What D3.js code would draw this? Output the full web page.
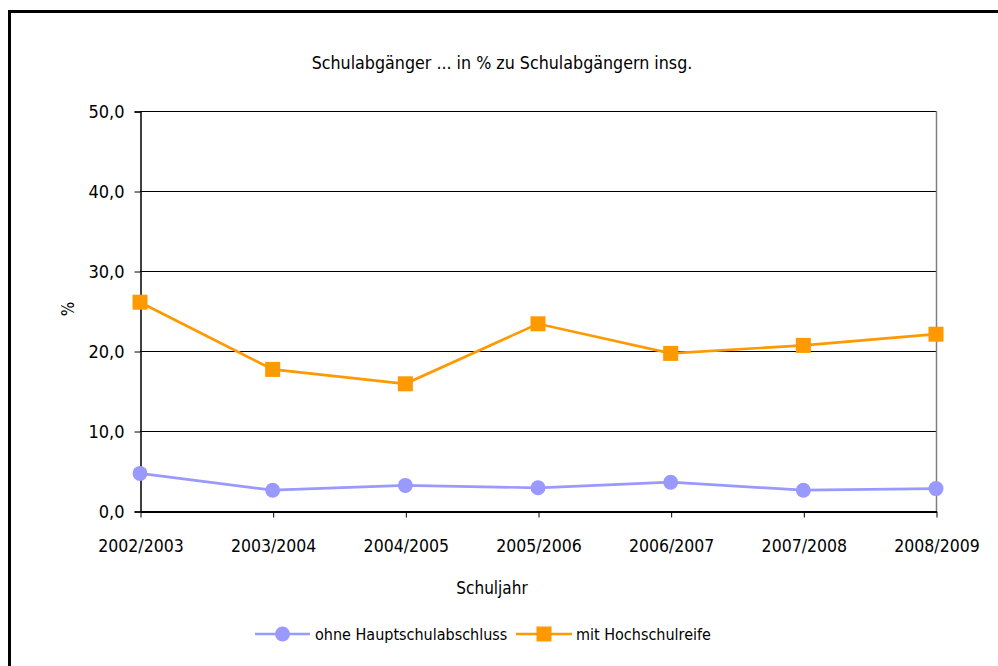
<!DOCTYPE html>
<html>
<head>
<meta charset="utf-8">
<script src="https://cdn.jsdelivr.net/npm/d3@7/dist/d3.min.js"></script>
<style>
  html, body { margin: 0; padding: 0; background: #fff; }
  svg text { font-family: "Liberation Sans Narrow", "DejaVu Sans Condensed", sans-serif; fill: #000; }
</style>
</head>
<body>
<svg id="chart" width="998" height="666"></svg>
<script>
// Schuljahre (Kategorien)
const years = ["2002/2003", "2003/2004", "2004/2005", "2005/2006", "2006/2007", "2007/2008", "2008/2009"];
// Anteile in % an allen Schulabgängern
const ohneHauptschulabschluss = [4.7, 2.6, 3.2, 2.9, 3.6, 2.6, 2.8];
const mitHochschulreife = [26.1, 17.7, 15.9, 23.4, 19.7, 20.7, 22.1];
const yTicks = [0, 10, 20, 30, 40, 50];

const series = [
  { name: "ohne Hauptschulabschluss", values: ohneHauptschulabschluss, color: "#9999FF", marker: "circle" },
  { name: "mit Hochschulreife", values: mitHochschulreife, color: "#FF9900", marker: "square" }
];

const svg = d3.select("#chart");
const fmt = v => d3.format(".1f")(v).replace(".", ",");

// Rahmen um das Diagramm
svg.append("rect")
  .attr("x", 9.5).attr("y", 11.5)
  .attr("width", 1000).attr("height", 700)
  .attr("fill", "none").attr("stroke", "#000").attr("stroke-width", 3);

const plot = { left: 140, right: 936, top: 111, bottom: 511 };

const x = d3.scalePoint().domain(years).range([plot.left, plot.right]).padding(0);
const y = d3.scaleLinear().domain([0, 50]).range([plot.bottom, plot.top]);

// Gitterlinien
svg.append("g")
  .selectAll("line")
  .data(yTicks.filter(t => t > 0))
  .join("line")
  .attr("x1", plot.left).attr("x2", plot.right)
  .attr("y1", d => Math.round(y(d)) + 0.5).attr("y2", d => Math.round(y(d)) + 0.5)
  .attr("stroke", "#000").attr("stroke-width", 1);

// rechter Rand der Zeichenfläche
svg.append("line")
  .attr("x1", plot.right + 0.5).attr("x2", plot.right + 0.5)
  .attr("y1", plot.top).attr("y2", plot.bottom)
  .attr("stroke", "#808080").attr("stroke-width", 1.5);

// Y-Achse
const yAxis = svg.append("g")
  .attr("transform", `translate(${plot.left + 0.5},0.5)`)
  .call(d3.axisLeft(y).tickValues(yTicks).tickFormat(fmt).tickSize(6).tickPadding(10));
yAxis.select(".domain").attr("stroke", "#000").attr("stroke-width", 1.5);
yAxis.selectAll(".tick line").attr("stroke", "#000");
yAxis.selectAll(".tick text").attr("font-size", 18).attr("fill", "#000");

// X-Achse
const xAxis = svg.append("g")
  .attr("transform", `translate(0.5,${plot.bottom + 0.5})`)
  .call(d3.axisBottom(x).tickSize(6).tickSizeOuter(0).tickPadding(22));
xAxis.select(".domain").attr("stroke", "#000").attr("stroke-width", 2);
xAxis.selectAll(".tick line").attr("stroke", "#000");
xAxis.selectAll(".tick text").attr("font-size", 17.5).attr("fill", "#000");

// Titel und Achsentitel
svg.append("text")
  .attr("x", 502).attr("y", 69)
  .attr("text-anchor", "middle").attr("font-size", 17.7)
  .text("Schulabgänger ... in % zu Schulabgängern insg.");

svg.append("text")
  .attr("x", 492).attr("y", 594)
  .attr("text-anchor", "middle").attr("font-size", 17)
  .text("Schuljahr");

svg.append("text")
  .attr("transform", "translate(74,309) rotate(-90)")
  .attr("text-anchor", "middle").attr("font-size", 17)
  .text("%");

// Linien und Markierungen
const line = d3.line().x((d, i) => x(years[i])).y(d => y(d));

series.forEach(s => {
  svg.append("path")
    .datum(s.values)
    .attr("d", line)
    .attr("fill", "none")
    .attr("stroke", s.color)
    .attr("stroke-width", 2.7);

  const g = svg.append("g");
  if (s.marker === "circle") {
    g.selectAll("circle").data(s.values).join("circle")
      .attr("cx", (d, i) => x(years[i]))
      .attr("cy", d => y(d))
      .attr("r", 7.5)
      .attr("fill", s.color);
  } else {
    g.selectAll("rect").data(s.values).join("rect")
      .attr("x", (d, i) => x(years[i]) - 7.5)
      .attr("y", d => y(d) - 7.5)
      .attr("width", 15).attr("height", 15)
      .attr("fill", s.color);
  }
});

// Legende
const legend = svg.append("g").attr("transform", "translate(0,634)");
const legendItems = [
  { s: series[0], x0: 255, x1: 310, tx: 315 },
  { s: series[1], x0: 516, x1: 572, tx: 576 }
];
legendItems.forEach(it => {
  legend.append("line")
    .attr("x1", it.x0).attr("x2", it.x1).attr("y1", 0).attr("y2", 0)
    .attr("stroke", it.s.color).attr("stroke-width", 2.7);
  const cx = (it.x0 + it.x1) / 2;
  if (it.s.marker === "circle") {
    legend.append("circle").attr("cx", cx).attr("cy", 0).attr("r", 7.5).attr("fill", it.s.color);
  } else {
    legend.append("rect").attr("x", cx - 7.5).attr("y", -7.5).attr("width", 15).attr("height", 15).attr("fill", it.s.color);
  }
  legend.append("text")
    .attr("x", it.tx).attr("y", 6)
    .attr("font-size", 16)
    .text(it.s.name);
});
</script>
</body>
</html>
